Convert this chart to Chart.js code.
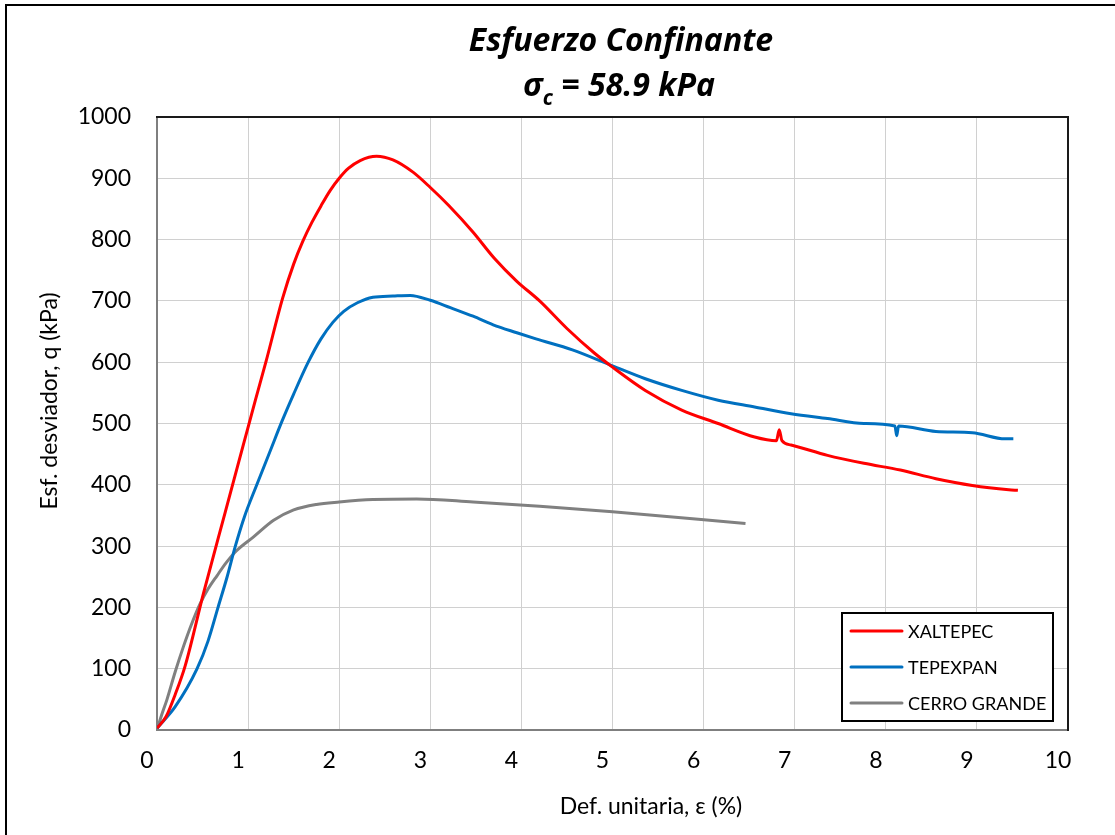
<!DOCTYPE html>
<html>
<head>
<meta charset="utf-8">
<script src="https://cdn.jsdelivr.net/npm/chart.js@4.4.0/dist/chart.umd.min.js"></script>
<style>
  html, body { margin: 0; padding: 0; background: #fff; }
  #chart { display: block; }
</style>
</head>
<body>
<canvas id="chart" width="1115" height="835"></canvas>
<script>
// curvas esfuerzo-deformacion (x = def. unitaria %, y = q kPa)
const xaltepecX = [0, 0.1, 0.2, 0.31, 0.51, 0.75, 0.96, 1.08, 1.2, 1.38, 1.5, 1.6, 1.7, 1.8, 1.9, 2.0, 2.1, 2.23, 2.41, 2.59, 2.81, 3.0, 3.2, 3.47, 3.7, 3.95, 4.2, 4.5, 4.8, 5.0, 5.36, 5.76, 6.16, 6.56, 6.8, 6.83, 6.86, 6.96, 7.36, 7.76, 8.16, 8.55, 8.95, 9.35, 9.45];
const xaltepecY = [3, 22, 58, 105, 223, 356, 472, 538, 603, 705, 760, 797, 828, 855, 880, 900, 916, 929, 936, 930, 910, 885, 856, 812, 770, 732, 700, 655, 615, 592, 554, 522, 500, 478, 472, 490, 472, 465, 448, 435, 424, 410, 399, 392, 391];

const tepexpanX = [0, 0.2, 0.44, 0.56, 0.67, 0.77, 0.86, 0.96, 1.09, 1.25, 1.37, 1.5, 1.66, 1.8, 1.93, 2.05, 2.2, 2.37, 2.59, 2.78, 3.0, 3.22, 3.47, 3.69, 3.95, 4.16, 4.56, 5.0, 5.36, 5.76, 6.16, 6.56, 6.96, 7.36, 7.76, 8.1, 8.12, 8.14, 8.55, 8.95, 9.31, 9.4];
const tepexpanY = [3, 38, 100, 145, 200, 250, 300, 348, 398, 458, 503, 548, 600, 638, 665, 683, 697, 706, 708, 709, 701, 689, 675, 661, 648, 638, 620, 594, 573, 554, 538, 527, 516, 508, 500, 496, 480, 496, 487, 485, 475, 475];

const cerroX = [0, 0.05, 0.11, 0.2, 0.29, 0.38, 0.47, 0.56, 0.66, 0.76, 0.87, 1.06, 1.28, 1.5, 1.75, 2.0, 2.37, 2.85, 3.47, 4.2, 5.0, 6.46];
const cerroY = [0, 24, 50, 95, 136, 173, 205, 230, 252, 273, 292, 315, 342, 359, 368, 372, 376, 377, 372, 365, 356, 337];

const seriesNames = ['XALTEPEC', 'TEPEXPAN', 'CERRO GRANDE'];
const seriesColors = ['#ff0000', '#0070c0', '#808080'];

const FONT = 'Lato, "Open Sans", sans-serif';
const TITLE_FONT = '"Open Sans", Lato, sans-serif';

function toPoints(xs, ys) {
    return xs.map((x, i) => ({x: x, y: ys[i]}));
}

// titulo, marco, titulos de ejes y leyenda dibujados a mano
const decor = {
    id: 'decor',
    beforeDraw(chart) {
        const ctx = chart.ctx;
        ctx.save();
        ctx.fillStyle = '#fff';
        ctx.fillRect(0, 0, chart.width, chart.height);
        ctx.restore();
    },
    afterDraw(chart) {
        const { ctx, chartArea: {top, bottom, left, right} } = chart;
        ctx.save();
        // marco exterior
        ctx.strokeStyle = '#000';
        ctx.lineWidth = 2;
        ctx.beginPath();
        ctx.moveTo(6, chart.height);
        ctx.lineTo(6, 5);
        ctx.lineTo(chart.width, 5);
        ctx.stroke();

        // borde superior y derecho del area de trazado
        ctx.lineWidth = 2;
        ctx.strokeStyle = '#1a1a1a';
        ctx.beginPath();
        ctx.moveTo(left - 1, top);
        ctx.lineTo(right, top);
        ctx.lineTo(right, bottom + 1);
        ctx.stroke();

        // titulo
        ctx.fillStyle = '#000';
        ctx.textBaseline = 'alphabetic';
        ctx.textAlign = 'center';
        ctx.font = 'italic bold 32px ' + TITLE_FONT;
        ctx.fillText('Esfuerzo Confinante', 621, 51);

        const partA = 'σ';
        const partB = ' = 58.9 kPa';
        const wA = ctx.measureText(partA).width;
        const wB = ctx.measureText(partB).width;
        ctx.font = 'italic bold 21px ' + TITLE_FONT;
        const wSub = ctx.measureText('c').width;
        let x0 = 619 - (wA + wSub + wB) / 2;
        ctx.textAlign = 'left';
        ctx.font = 'italic bold 32px ' + TITLE_FONT;
        ctx.fillText(partA, x0, 96);
        ctx.font = 'italic bold 21px ' + TITLE_FONT;
        ctx.fillText('c', x0 + wA, 105);
        ctx.font = 'italic bold 32px ' + TITLE_FONT;
        ctx.fillText(partB, x0 + wA + wSub, 96);

        // titulos de ejes
        ctx.font = '23px ' + FONT;
        ctx.textAlign = 'center';
        ctx.fillText('Def. unitaria, ε (%)', 651, 814);
        ctx.save();
        ctx.translate(57, 401);
        ctx.rotate(-Math.PI / 2);
        ctx.fillText('Esf. desviador, q (kPa)', 0, 0);
        ctx.restore();

        // leyenda
        const lx = 842, ly = 613, lw = 211, lh = 108;
        ctx.fillStyle = '#fff';
        ctx.fillRect(lx, ly, lw, lh);
        ctx.strokeStyle = '#000';
        ctx.lineWidth = 2;
        ctx.strokeRect(lx, ly, lw, lh);
        ctx.font = '18px ' + FONT;
        ctx.textAlign = 'left';
        ctx.textBaseline = 'middle';
        chart.data.datasets.forEach((ds, i) => {
            const yy = 631 + i * 36;
            ctx.strokeStyle = ds.borderColor;
            ctx.lineWidth = 3;
            ctx.lineCap = 'round';
            ctx.beginPath();
            ctx.moveTo(851, yy);
            ctx.lineTo(902, yy);
            ctx.stroke();
            ctx.fillStyle = '#000';
            ctx.fillText(ds.label, 908, yy + 1);
        });
        ctx.restore();
    }
};

const data = {
    datasets: [
        { label: seriesNames[0], data: toPoints(xaltepecX, xaltepecY), borderColor: seriesColors[0] },
        { label: seriesNames[1], data: toPoints(tepexpanX, tepexpanY), borderColor: seriesColors[1] },
        { label: seriesNames[2], data: toPoints(cerroX, cerroY), borderColor: seriesColors[2] }
    ].map(d => Object.assign(d, {
        backgroundColor: d.borderColor,
        borderWidth: 3,
        pointRadius: 0,
        cubicInterpolationMode: 'monotone',
        fill: false
    }))
};

const tickFont = { family: FONT, size: 23 };

const config = {
    type: 'line',
    data,
    options: {
        responsive: false,
        animation: false,
        layout: {
            padding: { top: 117, right: 47, bottom: 0, left: 0 }
        },
        scales: {
            x: {
                type: 'linear',
                min: 0,
                max: 10,
                ticks: { stepSize: 1, color: '#000', font: tickFont, padding: 17, labelOffset: -10, maxRotation: 0 },
                grid: { color: '#d0d0d0', lineWidth: 1, drawTicks: false },
                border: { color: '#7f7f7f', width: 2 },
                afterFit(s) { s.height = 105; }
            },
            y: {
                min: 0,
                max: 1000,
                ticks: { stepSize: 100, color: '#000', font: tickFont, padding: 26, callback: v => String(v) },
                grid: { color: '#d0d0d0', lineWidth: 1, drawTicks: false },
                border: { color: '#7f7f7f', width: 2 },
                afterFit(s) { s.width = 157; }
            }
        },
        plugins: {
            legend: { display: false },
            title: { display: false },
            tooltip: { enabled: false }
        }
    },
    plugins: [decor]
};

var chart = new Chart(document.getElementById('chart'), config);
</script>
</body>
</html>
